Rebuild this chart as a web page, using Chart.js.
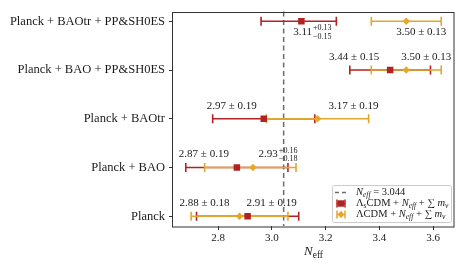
<!DOCTYPE html>
<html>
<head>
<meta charset="utf-8">
<script src="https://cdn.jsdelivr.net/npm/chart.js@4/dist/chart.umd.min.js"></script>
<style>
  html, body { margin: 0; padding: 0; background: #fff; }
  #wrap { width: 463px; height: 267px; }
</style>
</head>
<body>
<div id="wrap"><canvas id="chart" width="463" height="267"></canvas></div>
<script>
// rows, bottom to top
const categories = ['Planck', 'Planck + BAO', 'Planck + BAOtr', 'Planck + BAO + PP&SH0ES', 'Planck + BAOtr + PP&SH0ES'];

// ΛsCDM + Neff + Σmν (red squares)
const redVal = [2.91, 2.87, 2.97, 3.44, 3.11];
const redLo  = [0.19, 0.19, 0.19, 0.15, 0.15];
const redHi  = [0.19, 0.19, 0.19, 0.15, 0.13];

// ΛCDM + Neff + Σmν (orange diamonds)
const orVal = [2.88, 2.93, 3.17, 3.50, 3.50];
const orLo  = [0.18, 0.18, 0.19, 0.13, 0.13];
const orHi  = [0.18, 0.16, 0.19, 0.13, 0.13];

const neffStd = 3.044;
const xTicks = [2.8, 3.0, 3.2, 3.4, 3.6];

// annotation offsets from the marker (px)
const redLabelOff = [[24, -13], [-33, -13], [-32, -13], [-36, -13], [11, 11]];
const orLabelOff  = [[-35, -13], [25, -13], [36, -13], [20, -13], [15, 11]];

const RED = '#b22222';
const ORANGE = '#e3a72b';
const INK = '#1a1a1a';
const SERIF = '"Liberation Serif", "DejaVu Serif", serif';

const legendItems = [
  { kind: 'dash', parts: [['N', 'i'], ['eff', 'si'], [' = 3.044', 'n']] },
  { kind: 'square', color: RED, parts: [['Λ', 'n'], ['s', 's'], ['CDM + ', 'n'], ['N', 'i'], ['eff', 'si'], [' + ∑ ', 'n'], ['m', 'i'], ['ν', 'si']] },
  { kind: 'diamond', color: ORANGE, parts: [['ΛCDM + ', 'n'], ['N', 'i'], ['eff', 'si'], [' + ∑ ', 'n'], ['m', 'i'], ['ν', 'si']] }
];

function fmt(v) { return v.toFixed(2); }

// draw rich text segments; returns width
function richText(ctx, parts, x, y, size, measureOnly) {
  let cx = x;
  parts.forEach(([t, st]) => {
    const sub = st === 's' || st === 'si';
    const it = st === 'i' || st === 'si';
    const fs = sub ? size * 0.72 : size;
    ctx.font = (it ? 'italic ' : '') + fs + 'px ' + SERIF;
    if (!measureOnly) ctx.fillText(t, cx, y + (sub ? size * 0.28 : 0));
    cx += ctx.measureText(t).width;
  });
  return cx - x;
}

function drawValueLabel(ctx, cx, cy, v, lo, hi) {
  ctx.fillStyle = INK;
  ctx.textBaseline = 'middle';
  ctx.textAlign = 'left';
  if (lo === hi) {
    ctx.font = '11px ' + SERIF;
    const s = fmt(v) + ' ± ' + fmt(lo);
    const w = ctx.measureText(s).width;
    ctx.fillText(s, cx - w / 2, cy);
  } else {
    ctx.font = '11px ' + SERIF;
    const m = fmt(v);
    const wm = ctx.measureText(m).width;
    ctx.font = '8px ' + SERIF;
    const sp = '+' + fmt(hi), sb = '−' + fmt(lo);
    const ws = Math.max(ctx.measureText(sp).width, ctx.measureText(sb).width);
    const x0 = cx - (wm + ws + 1) / 2;
    ctx.font = '11px ' + SERIF;
    ctx.fillText(m, x0, cy);
    ctx.font = '8px ' + SERIF;
    ctx.fillText(sp, x0 + wm + 1, cy - 4);
    ctx.fillText(sb, x0 + wm + 1, cy + 4.5);
  }
}

const errorBars = {
  id: 'errorBars',
  beforeDatasetsDraw(chart) {
    const { ctx, chartArea: a, scales: { x, y } } = chart;
    ctx.save();
    // reference line
    ctx.strokeStyle = '#6b6b6b';
    ctx.lineWidth = 1.5;
    ctx.setLineDash([5, 3.5]);
    const xr = x.getPixelForValue(neffStd);
    ctx.beginPath();
    ctx.moveTo(xr, a.top);
    ctx.lineTo(xr, a.bottom);
    ctx.stroke();
    ctx.setLineDash([]);
    [[redVal, redLo, redHi, RED], [orVal, orLo, orHi, ORANGE]].forEach(([vals, lo, hi, col]) => {
      ctx.strokeStyle = col;
      ctx.lineWidth = 1.6;
      vals.forEach((v, i) => {
        const py = y.getPixelForValue(i);
        const x0 = x.getPixelForValue(v - lo[i]);
        const x1 = x.getPixelForValue(v + hi[i]);
        ctx.beginPath();
        ctx.moveTo(x0, py); ctx.lineTo(x1, py);
        ctx.moveTo(x0, py - 4.5); ctx.lineTo(x0, py + 4.5);
        ctx.moveTo(x1, py - 4.5); ctx.lineTo(x1, py + 4.5);
        ctx.stroke();
      });
    });
    ctx.restore();
  },
  afterDatasetsDraw(chart) {
    const { ctx, scales: { x, y } } = chart;
    ctx.save();
    redVal.forEach((v, i) => {
      drawValueLabel(ctx, x.getPixelForValue(v) + redLabelOff[i][0], y.getPixelForValue(i) + redLabelOff[i][1], v, redLo[i], redHi[i]);
    });
    orVal.forEach((v, i) => {
      drawValueLabel(ctx, x.getPixelForValue(v) + orLabelOff[i][0], y.getPixelForValue(i) + orLabelOff[i][1], v, orLo[i], orHi[i]);
    });
    ctx.restore();
  },
  afterDraw(chart) {
    const { ctx, chartArea: a } = chart;
    ctx.save();
    // frame
    ctx.strokeStyle = '#333';
    ctx.lineWidth = 1;
    ctx.strokeRect(Math.round(a.left) - 0.5, Math.round(a.top) + 0.5, Math.round(a.right - a.left) + 0.5, Math.round(a.bottom - a.top) - 0.5);

    // axis title
    ctx.fillStyle = INK;
    ctx.textBaseline = 'middle';
    const tparts = [['N', 'i'], ['eff', 's']];
    const tw = richText(ctx, tparts, 0, 0, 13, true);
    richText(ctx, tparts, (a.left + a.right) / 2 - tw / 2, 252, 13, false);

    // legend
    const lx = 332, ly = 185, lw = 119, lh = 37;
    ctx.fillStyle = 'rgba(255,255,255,0.85)';
    ctx.strokeStyle = '#cccccc';
    ctx.beginPath();
    ctx.roundRect(lx + 0.5, ly + 0.5, lw, lh, 2);
    ctx.fill();
    ctx.stroke();
    legendItems.forEach((it, k) => {
      const yy = ly + 7.5 + k * 11;
      const mx = 341;
      if (it.kind === 'dash') {
        ctx.strokeStyle = '#6b6b6b';
        ctx.lineWidth = 1.5;
        ctx.setLineDash([4, 3]);
        ctx.beginPath(); ctx.moveTo(335, yy); ctx.lineTo(349, yy); ctx.stroke();
        ctx.setLineDash([]);
      } else {
        ctx.strokeStyle = it.color;
        ctx.fillStyle = it.color;
        ctx.lineWidth = 1.5;
        ctx.beginPath();
        ctx.moveTo(mx - 4, yy); ctx.lineTo(mx + 4, yy);
        ctx.moveTo(mx - 4, yy - 4); ctx.lineTo(mx - 4, yy + 4);
        ctx.moveTo(mx + 4, yy - 4); ctx.lineTo(mx + 4, yy + 4);
        ctx.stroke();
        ctx.beginPath();
        if (it.kind === 'square') {
          ctx.rect(mx - 3.2, yy - 3.2, 6.4, 6.4);
        } else {
          ctx.moveTo(mx, yy - 3.8); ctx.lineTo(mx + 3.3, yy); ctx.lineTo(mx, yy + 3.8); ctx.lineTo(mx - 3.3, yy); ctx.closePath();
        }
        ctx.fill();
      }
      ctx.fillStyle = INK;
      ctx.textBaseline = 'middle';
      ctx.textAlign = 'left';
      richText(ctx, it.parts, 356, yy, 10.5, false);
    });
    ctx.restore();
  }
};

Chart.defaults.font.family = SERIF;
Chart.defaults.color = INK;

new Chart(document.getElementById('chart').getContext('2d'), {
  type: 'scatter',
  data: {
    datasets: [
      {
        label: 'ΛsCDM',
        data: redVal.map((v, i) => ({ x: v, y: i })),
        pointStyle: 'rect',
        pointRadius: 4.6,
        backgroundColor: RED,
        borderColor: RED,
        borderWidth: 0
      },
      {
        label: 'ΛCDM',
        data: orVal.map((v, i) => ({ x: v, y: i })),
        pointStyle: 'rectRot',
        pointRadius: 3.7,
        backgroundColor: ORANGE,
        borderColor: ORANGE,
        borderWidth: 0
      }
    ]
  },
  options: {
    responsive: false,
    animation: false,
    events: [],
    layout: { padding: { top: 8, right: 9, left: 0, bottom: 0 } },
    plugins: { legend: { display: false }, tooltip: { enabled: false } },
    scales: {
      x: {
        type: 'linear',
        min: 2.6325,
        max: 3.6775,
        afterBuildTicks: s => { s.ticks = xTicks.map(v => ({ value: v })); },
        afterFit: s => { s.height = 41; },
        ticks: { font: { size: 11 }, color: INK, padding: 2, callback: v => v.toFixed(1), maxRotation: 0 },
        grid: { drawOnChartArea: false, drawTicks: true, tickLength: 4, color: '#333' },
        border: { display: false }
      },
      y: {
        type: 'linear',
        min: -0.2,
        max: 4.2,
        afterBuildTicks: s => { s.ticks = categories.map((c, i) => ({ value: i })); },
        afterFit: s => { s.width = 173; },
        ticks: { font: { size: 12.5 }, color: INK, padding: 4, callback: v => categories[v] },
        grid: { drawOnChartArea: false, drawTicks: true, tickLength: 4, color: '#333' },
        border: { display: false }
      }
    }
  },
  plugins: [errorBars]
});
</script>
</body>
</html>
